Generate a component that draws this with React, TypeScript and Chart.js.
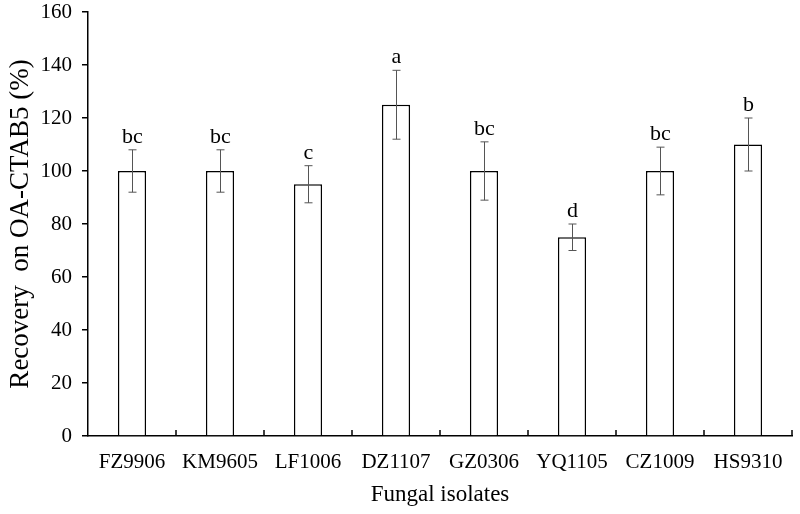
import React, { useEffect, useRef } from "react";
import { Chart, registerables } from "chart.js";

Chart.register(...registerables);

const categories = ["FZ9906", "KM9605", "LF1006", "DZ1107", "GZ0306", "YQ1105", "CZ1009", "HS9310"];
const recovery = [100, 100, 95, 125, 100, 75, 100, 110];
const errors = [8, 8, 7, 13, 11, 5, 9, 10];
const letters = ["bc", "bc", "c", "a", "bc", "d", "bc", "b"];
const yTicks = [0, 20, 40, 60, 80, 100, 120, 140, 160];

const FONT = "'Liberation Serif', 'Times New Roman', serif";

const overlayPlugin = {
  id: "overlay",
  afterDatasetsDraw(chart: any) {
    const ctx = chart.ctx;
    const x = chart.scales.x;
    const y = chart.scales.y;
    const area = chart.chartArea;
    const n = categories.length;
    const catW = (x.getPixelForValue(1) - x.getPixelForValue(0));
    ctx.save();
    ctx.strokeStyle = "#000";
    ctx.lineWidth = 1.5;
    for (let i = 1; i <= n; i++) {
      const bx = x.getPixelForValue(i - 1) + catW / 2;
      ctx.beginPath();
      ctx.moveTo(bx, area.bottom);
      ctx.lineTo(bx, area.bottom - 6);
      ctx.stroke();
    }
    ctx.strokeStyle = "#555";
    ctx.lineWidth = 1;
    for (let i = 0; i < n; i++) {
      const cx = Math.round(x.getPixelForValue(i)) + 0.5;
      const yt = y.getPixelForValue(recovery[i] + errors[i]);
      const yb = y.getPixelForValue(recovery[i] - errors[i]);
      ctx.beginPath();
      ctx.moveTo(cx, yt);
      ctx.lineTo(cx, yb);
      ctx.moveTo(cx - 4, yt);
      ctx.lineTo(cx + 4, yt);
      ctx.moveTo(cx - 4, yb);
      ctx.lineTo(cx + 4, yb);
      ctx.stroke();
      ctx.fillStyle = "#000";
      ctx.font = `22px ${FONT}`;
      ctx.textAlign = "center";
      ctx.textBaseline = "alphabetic";
      ctx.fillText(letters[i], cx, yt - 7);
    }
    ctx.restore();
  },
};

export default function App() {
  const ref = useRef<HTMLCanvasElement>(null);
  useEffect(() => {
    document.body.style.margin = "0";
    const chart = new Chart(ref.current!, {
      type: "bar",
      data: {
        labels: categories,
        datasets: [
          {
            data: recovery,
            backgroundColor: "#fff",
            borderColor: "#000",
            borderWidth: 1.5,
            barPercentage: 0.32,
            categoryPercentage: 1,
          },
        ],
      },
      options: {
        animation: false,
        responsive: false,
        maintainAspectRatio: false,
        layout: { padding: { left: 0, right: 8, top: 12, bottom: 0 } },
        plugins: { legend: { display: false }, tooltip: { enabled: false } },
        scales: {
          x: {
            grid: { display: true, drawOnChartArea: false, drawTicks: false, offset: true, color: "rgba(0,0,0,0)" },
            border: { color: "#000", width: 1.5 },
            ticks: { color: "#000", font: { family: FONT, size: 21 }, padding: 14, maxRotation: 0, autoSkip: false },
            title: { display: true, text: "Fungal isolates", color: "#000", font: { family: FONT, size: 23 }, padding: { top: 0, bottom: 5 } },
            afterFit(scale: any) { scale.height = 78; scale.paddingLeft = 0; scale.paddingRight = 0; },
          },
          y: {
            min: 0,
            max: 160,
            afterBuildTicks(scale: any) { scale.ticks = yTicks.map((v) => ({ value: v })); },
            grid: { display: true, drawOnChartArea: false, drawTicks: true, tickLength: 6, color: "#000", lineWidth: 1.5 },
            border: { color: "#000", width: 1.5 },
            ticks: { color: "#000", font: { family: FONT, size: 21 }, padding: 10 },
            title: { display: true, text: "Recovery  on OA-CTAB5 (%)", color: "#000", font: { family: FONT, size: 27 }, padding: { top: 5, bottom: 4 } },
            afterFit(scale: any) { scale.width = 88; scale.paddingTop = 0; scale.paddingBottom = 0; },
          },
        },
      },
      plugins: [overlayPlugin],
    });
    return () => chart.destroy();
  }, []);
  return (
    <div style={{ width: 800, height: 514 }}>
      <canvas ref={ref} width={800} height={514} style={{ width: 800, height: 514, display: "block" }} />
    </div>
  );
}
